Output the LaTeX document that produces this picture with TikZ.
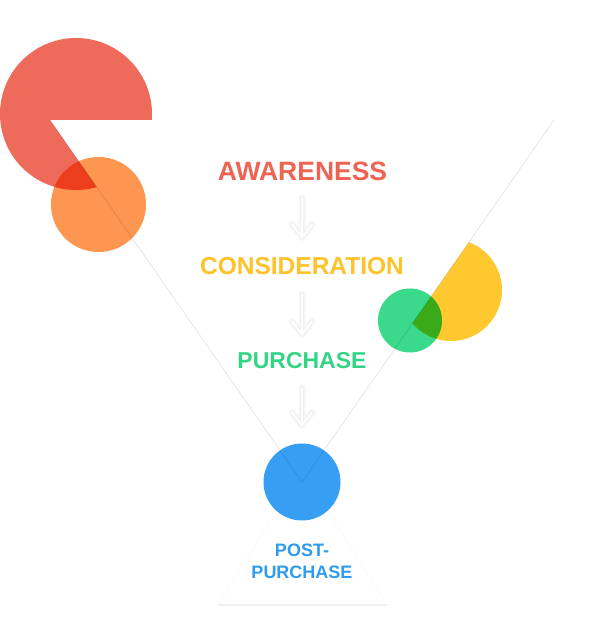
\documentclass[tikz,border=0pt]{standalone}
\usepackage{fontspec}
\setmainfont{Liberation Sans}
\usetikzlibrary{calc}
\definecolor{cred}{HTML}{EE6A5A}
\definecolor{corange}{HTML}{FD9650}
\definecolor{cyellow}{HTML}{FFC82E}
\definecolor{cgreen}{HTML}{3AD98B}
\definecolor{cblue}{HTML}{379FF3}
\definecolor{tred}{HTML}{EE6352}
\definecolor{tyellow}{HTML}{FEC22A}
\definecolor{tgreen}{HTML}{33D585}
\definecolor{tblue}{HTML}{2E9BF0}
\tikzset{
  lab/.style={inner sep=0pt, outer sep=0pt},
  funnel/.style={draw=black, draw opacity=0.1, line width=0.8bp},
  tri/.style={draw=black!2, line width=0.6bp},
  triBase/.style={draw=black!6, line width=2bp},
  arrsoft/.style={draw=black!3, line width=7bp, line cap=round, line join=round},
  arrshadow/.style={draw=black!6, line width=4bp, line cap=round, line join=round},
  arrwhite/.style={draw=white, line width=2bp, line cap=round, line join=round},
}
\newcommand\flowarrow[2]{%
  \draw[arrsoft] (#1) -- (#2);
  \draw[arrsoft] ($(#2)+(-10,13)$) -- (#2) -- ($(#2)+(10,13)$);
  \draw[arrshadow] (#1) -- (#2);
  \draw[arrshadow] ($(#2)+(-10,13)$) -- (#2) -- ($(#2)+(10,13)$);
  \draw[arrwhite] (#1) -- (#2);
  \draw[arrwhite] ($(#2)+(-10,13)$) -- (#2) -- ($(#2)+(10,13)$);
}
\begin{document}
\begin{tikzpicture}[x=1bp,y=1bp]
\useasboundingbox (0,0) rectangle (594,644);
\fill[white] (0,0) rectangle (594,644);

% faint lower triangle
\coordinate (T) at (302,174);
\coordinate (TL) at (218,39);
\coordinate (TR) at (387,39);
\draw[tri] (TL) -- (T) -- (TR);
\draw[triBase] (TL) -- (TR);

% red pie with notch
\fill[cred] (50,524) -- (151.76,524) arc[start angle=-4.53, end angle=285.82, radius=76] -- cycle;
% orange circle
\begin{scope}[blend mode=multiply]
\fill[corange] (98.5,439.5) circle[radius=47.5];
\end{scope}

% funnel coordinates
\coordinate (A) at (50,524);
\coordinate (V) at (302,162);
\coordinate (B) at (554,524);

% yellow segment
\begin{scope}
\clip ($(V)!-1!(B)$) -- ($(V)!2!(B)$) -- (1000,886) -- (1000,-200) -- cycle;
\fill[cyellow] (451,354) circle[radius=51];
\end{scope}
% green circle
\begin{scope}[blend mode=multiply]
\fill[cgreen] (410,323.5) circle[radius=32];
\end{scope}

% blue circle
\node[circle, fill=cblue, minimum size=77bp, inner sep=0pt, outer sep=0pt] (pb) at (302,162) {};

% funnel lines
\draw[funnel] (A) -- (V) -- (B);

% labels
\node[lab, text=tred, font=\fontsize{26.5bp}{30bp}\selectfont\bfseries] (aw) at (302.5,472.5) {AWARENESS};
\node[lab, text=tyellow, font=\fontsize{24.5bp}{28bp}\selectfont\bfseries] (co) at (302,378) {CONSIDERATION};
\node[lab, text=tgreen, font=\fontsize{23bp}{27bp}\selectfont\bfseries] (pu) at (302,283.5) {PURCHASE};
\node[lab, text=tblue, align=center, font=\fontsize{18bp}{22bp}\selectfont\bfseries] (post) at (302,82.5) {POST-\\PURCHASE};

% arrows
\coordinate (a1s) at ($(aw.south)!17bp!(co.north)$);
\coordinate (a1e) at ($(co.north)!20bp!(aw.south)$);
\coordinate (a2s) at ($(co.south)!20bp!(pu.north)$);
\coordinate (a2e) at ($(pu.north)!18bp!(co.south)$);
\coordinate (a3s) at ($(pu.south)!19bp!(pb.north)$);
\coordinate (a3e) at ($(pb.north)!18bp!(pu.south)$);
\flowarrow{a1s}{a1e}
\flowarrow{a2s}{a2e}
\flowarrow{a3s}{a3e}
\end{tikzpicture}
\end{document}
